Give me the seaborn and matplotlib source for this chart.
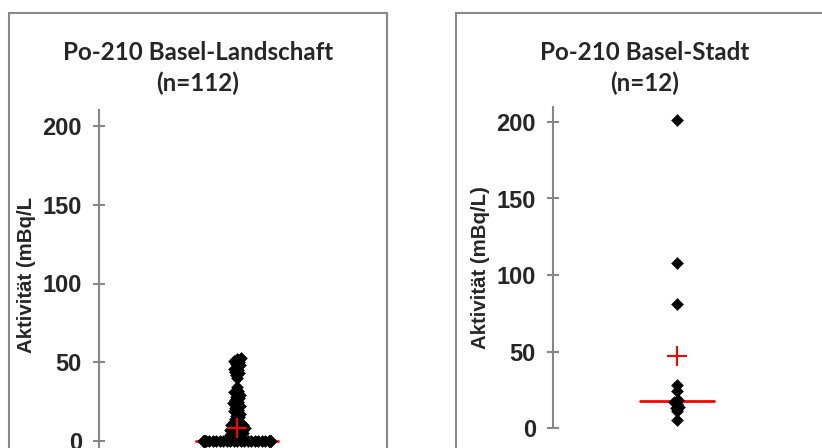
import warnings
import numpy as np
import pandas as pd
import seaborn as sns
import matplotlib.pyplot as plt
from matplotlib.patches import Rectangle

warnings.filterwarnings("ignore")

# Daten
titles = ["Po-210 Basel-Landschaft", "Po-210 Basel-Stadt"]
counts = ["(n=112)", "(n=12)"]
ylabels = ["Aktivität (mBq/L", "Aktivität (mBq/L)"]

bl_werte = [0] * 60 + [3, 3, 4, 4, 5, 5, 6, 6, 7, 7, 8, 8, 9, 9, 10, 10,
                       11, 12, 13, 14, 15, 16, 17, 18, 19, 20, 21, 22, 23, 24,
                       25, 26, 27, 28, 29, 30, 31, 32, 34, 40, 42, 43, 44, 45,
                       46, 47, 48, 49, 50, 51, 52, 53]
bs_werte = [5, 11, 13, 14, 16, 17, 18, 24, 28, 81, 108, 201]
werte = [bl_werte, bs_werte]
mittelwerte = [8.5, 47]
mediane = [0, 17.5]
yticks = [0, 50, 100, 150, 200]
ylims = [(-5, 210), (0, 210)]

W, H = 822, 448
sns.set_style("white")
plt.rcParams["font.family"] = ["Liberation Sans", "DejaVu Sans"]
plt.rcParams["font.weight"] = "bold"
fig = plt.figure(figsize=(W / 100, H / 100), dpi=100)

grau = "#878787"

# Rahmen der beiden Diagramme (in Pixeln)
rahmen = [(9, 13, 378), (456, 13, 378)]
# Achsen: x links, x rechts, Pixel von y=0, Pixel pro Einheit
achsen = [(99, 375, 441, 1.575), (553, 801, 428, 1.53)]
titel_x = [198, 645]
label_x = [27, 480]
label_y = [275, 268]

# Schwarmbreite (0.8 Einheiten) soll ca. 24 % der Achsenbreite sein
xspan = 0.8 / 0.24

axes = []
for i in range(2):
    rx, ry, rw = rahmen[i]
    fig.add_artist(Rectangle((rx / W, -0.1), rw / W, 1 - ry / H + 0.1,
                             transform=fig.transFigure, fill=False,
                             edgecolor=grau, lw=1.5))

    x0, x1, y0, ppu = achsen[i]
    lo, hi = ylims[i]
    top = y0 - hi * ppu
    bot = y0 - lo * ppu
    ax = fig.add_axes([x0 / W, 1 - bot / H, (x1 - x0) / W, (bot - top) / H])
    ax.patch.set_alpha(0)
    ax.set_xlim(-xspan / 2, xspan / 2)
    ax.set_ylim(lo, hi)

    df = pd.DataFrame({"wert": werte[i]})
    half = 0.15 * xspan
    ax.plot([-half, half], [mediane[i], mediane[i]], color="red", lw=2, zorder=1)
    # enger Schwarm mit kleinen Punkten
    sns.swarmplot(data=df, y="wert", ax=ax, marker="D", size=2.4, color="black",
                  linewidth=0, zorder=2)
    ax.plot([0], [mittelwerte[i]], marker="+", color="red", markersize=14,
            mew=1.5, zorder=3)

    ax.set_xlim(-xspan / 2, xspan / 2)
    ax.set_ylim(lo, hi)
    ax.set_yticks(yticks)
    ax.set_xticks([])
    ax.set_xlabel("")
    ax.set_ylabel("")
    for s in ["top", "right", "bottom"]:
        ax.spines[s].set_visible(False)
    ax.spines["left"].set_color(grau)
    ax.spines["left"].set_linewidth(1.5)
    ax.tick_params(axis="y", direction="inout", length=8.6, width=1.5,
                   color=grau, pad=8, left=True, labelsize=17)
    axes.append(ax)

    fig.text(titel_x[i] / W, 1 - 52 / H, titles[i], ha="center", va="center",
             fontsize=17.4, fontweight="bold", family=["Lato", "DejaVu Sans"])
    fig.text(titel_x[i] / W, 1 - 83 / H, counts[i], ha="center", va="center",
             fontsize=17.4, fontweight="bold", family=["Lato", "DejaVu Sans"])
    fig.text(label_x[i] / W, 1 - label_y[i] / H, ylabels[i], rotation=90,
             ha="center", va="center", fontsize=14.7, fontweight="bold")

# Schwarm-Positionen festhalten, dann groessere (ueberlappende) Rauten
fig.canvas.draw()
for ax in axes:
    for c in ax.collections:
        off = np.array(c.get_offsets())
        if "draw" in c.__dict__:
            del c.draw
        c.set_offsets(off)
        c.set_sizes([6.5 ** 2])

fig.savefig("out.png", dpi=100)
